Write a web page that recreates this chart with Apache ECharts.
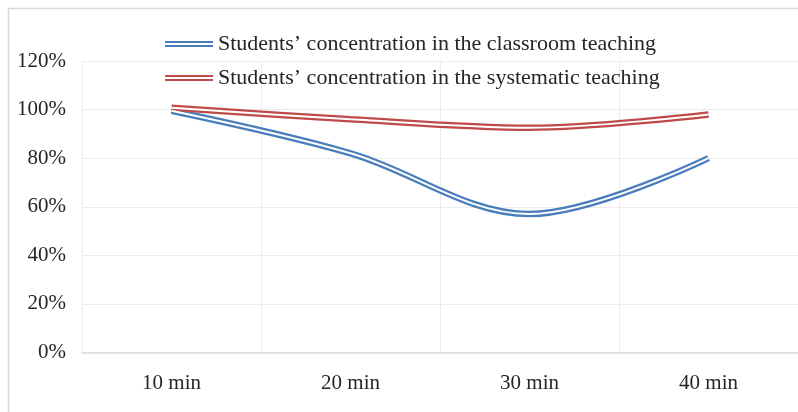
<!DOCTYPE html>
<html>
<head>
<meta charset="utf-8">
<script src="https://cdn.jsdelivr.net/npm/echarts@6/dist/echarts.min.js"></script>
<style>
html,body{margin:0;padding:0;background:#fff;}
#c{width:798px;height:412px;}
</style>
</head>
<body>
<div id="c"></div>
<script>
var categories = ['10 min', '20 min', '30 min', '40 min'];
var classroomName = 'Students\u2019 concentration in the classroom teaching';
var systematicName = 'Students\u2019 concentration in the systematic teaching';
var classroomValues = [99.5, 82, 57, 80];
var systematicValues = [100.8, 96, 92.5, 98];
var yTicks = [0, 20, 40, 60, 80, 100, 120];

var blue = '#4A7EBB';
var red = '#BE4B48';
var font = '"Liberation Serif", "Times New Roman", serif';
var icon = 'path://M0,0L48,0L48,2.2L0,2.2Z M0,4L48,4L48,6.2L0,6.2Z';

function outer(name, data, color) {
  return {name: name, type: 'line', data: data, smooth: 0.35, symbol: 'none', silent: true,
    color: color, lineStyle: {color: color, width: 6.5}, z: 2};
}
function inner(name, data) {
  return {name: name, type: 'line', data: data, smooth: 0.35, symbol: 'none', silent: true,
    color: '#fff', lineStyle: {color: '#ffffff', width: 2}, z: 3};
}

var chart = echarts.init(document.getElementById('c'), null, {renderer: 'canvas'});
chart.setOption({
  animation: false,
  backgroundColor: '#fff',
  graphic: [{type: 'rect', left: 6, top: 6, shape: {width: 900, height: 500},
    style: {fill: 'none', stroke: '#d9d9d9', lineWidth: 1.5}, z: -1}],
  legend: {
    orient: 'vertical', left: 160, top: 28, itemWidth: 48, itemHeight: 6.2, itemGap: 12,
    data: [{name: classroomName, icon: icon}, {name: systematicName, icon: icon}],
    textStyle: {fontFamily: font, fontSize: 22, color: '#262626', lineHeight: 22}
  },
  grid: {left: 82, right: -2, top: 61, bottom: 59.5, containLabel: false},
  xAxis: {
    type: 'category', data: categories, boundaryGap: true,
    axisLine: {show: true, lineStyle: {color: '#d9d9d9', width: 1.5}},
    axisTick: {show: false},
    axisLabel: {fontFamily: font, fontSize: 21, color: '#262626', margin: 20},
    splitLine: {show: true, lineStyle: {color: '#ececec', width: 1}}
  },
  yAxis: {
    type: 'value', min: yTicks[0], max: yTicks[yTicks.length - 1], interval: 20,
    axisLine: {show: false}, axisTick: {show: false},
    axisLabel: {fontFamily: font, fontSize: 21, color: '#262626', margin: 16,
      formatter: function (v) { return v + '%'; }},
    splitLine: {show: true, lineStyle: {color: '#ececec', width: 1}}
  },
  series: [
    outer(classroomName, classroomValues, blue),
    inner('_c', classroomValues),
    outer(systematicName, systematicValues, red),
    inner('_s', systematicValues)
  ]
});
</script>
</body>
</html>
